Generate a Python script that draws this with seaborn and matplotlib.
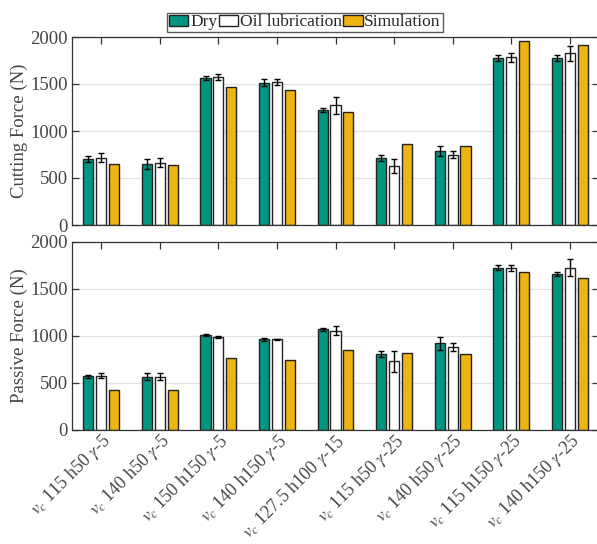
import numpy as np
import pandas as pd
import seaborn as sns
from matplotlib import pyplot as plt

sns.set_style('white')
plt.rcParams['font.family'] = ['Liberation Serif', 'DejaVu Serif']
plt.rcParams['mathtext.fontset'] = 'stix'

conditions = [r'$v_c$ 115 h50 $\gamma$-5', r'$v_c$ 140 h50 $\gamma$-5',
              r'$v_c$ 150 h150 $\gamma$-5', r'$v_c$ 140 h150 $\gamma$-5',
              r'$v_c$ 127.5 h100 $\gamma$-15', r'$v_c$ 115 h50 $\gamma$-25',
              r'$v_c$ 140 h50 $\gamma$-25', r'$v_c$ 115 h150 $\gamma$-25',
              r'$v_c$ 140 h150 $\gamma$-25']
series = ['Dry', 'Oil lubrication', 'Simulation']

cut_dry = [700, 650, 1565, 1515, 1222, 708, 788, 1778, 1775]
cut_oil = [715, 660, 1575, 1520, 1272, 630, 750, 1785, 1825]
cut_sim = [645, 638, 1470, 1440, 1203, 858, 838, 1955, 1910]
cut_dry_err = [30, 50, 20, 35, 22, 32, 50, 35, 35]
cut_oil_err = [48, 48, 35, 32, 95, 75, 40, 50, 80]

pas_dry = [565, 563, 1007, 958, 1068, 802, 915, 1723, 1652]
pas_oil = [573, 563, 988, 958, 1053, 727, 880, 1720, 1722]
pas_sim = [425, 422, 762, 741, 851, 814, 801, 1672, 1613]
pas_dry_err = [15, 35, 10, 20, 15, 35, 70, 25, 20]
pas_oil_err = [25, 40, 10, 10, 48, 110, 45, 30, 90]

colors = ['#00967F', '#FFFFFF', '#EDB412']


def make_df(dry, oil, sim):
    return pd.DataFrame({
        'condition': conditions * 3,
        'series': np.repeat(series, len(conditions)),
        'force': dry + oil + sim,
    })


fig = plt.figure(figsize=(5.97, 5.44), dpi=100)
ax1 = fig.add_axes([72 / 597, 1 - 225 / 544, 527 / 597, 188 / 544])
ax2 = fig.add_axes([72 / 597, 1 - 429.5 / 544, 527 / 597, 188 / 544])

panels = [
    (ax1, make_df(cut_dry, cut_oil, cut_sim), [cut_dry_err, cut_oil_err], 'Cutting Force (N)'),
    (ax2, make_df(pas_dry, pas_oil, pas_sim), [pas_dry_err, pas_oil_err], 'Passive Force (N)'),
]

for ax, df, errs, ylab in panels:
    sns.barplot(data=df, x='condition', y='force', hue='series', palette=colors,
                saturation=1, width=0.66, gap=0.22, errorbar=None, edgecolor='#222222',
                linewidth=1.0, ax=ax, legend=(ax is ax1), zorder=2)
    # error bars for the two measured series
    for cont, err in zip(ax.containers[:2], errs):
        xs = [p.get_x() + p.get_width() / 2 for p in cont.patches]
        ys = [p.get_height() for p in cont.patches]
        ax.errorbar(xs, ys, yerr=err, fmt='none', ecolor='black',
                    elinewidth=1.0, capsize=2, capthick=1.0, zorder=3)
    ax.set_ylim(0, 2000)
    ax.set_xlim(-0.5, 8.5)
    ax.set_yticks([0, 500, 1000, 1500, 2000])
    ax.yaxis.grid(True, color='#e3e3e3', linewidth=0.9, zorder=0)
    ax.set_axisbelow(True)
    ax.set_ylabel(ylab, fontsize=13.5, color='#444444', labelpad=2)
    ax.set_xlabel('')
    ax.tick_params(axis='both', direction='in', length=5, width=0.9,
                   top=True, right=True, bottom=True, left=True,
                   labelsize=13.5, labelcolor='#444444', color='#333333', pad=3)
    for s in ax.spines.values():
        s.set_color('#333333')
        s.set_linewidth(0.9)

ax1.set_xticklabels([])
ax2.set_xticks(range(len(conditions)))
ax2.set_xticklabels(conditions, rotation=45, ha='right', rotation_mode='anchor', fontsize=13)
ax2.tick_params(axis='x', pad=1)

handles, labels = ax1.get_legend_handles_labels()
ax1.legend(handles, labels, ncol=3, loc='lower center', bbox_to_anchor=(305 / 597, 1 - 32 / 544),
           bbox_transform=fig.transFigure, fontsize=12.5, frameon=True, fancybox=False,
           edgecolor='#333333', handlelength=1.1, handleheight=0.6, handletextpad=0.1,
           columnspacing=0.1, borderpad=0.1, borderaxespad=0)

fig.savefig('out.png', dpi=100)
